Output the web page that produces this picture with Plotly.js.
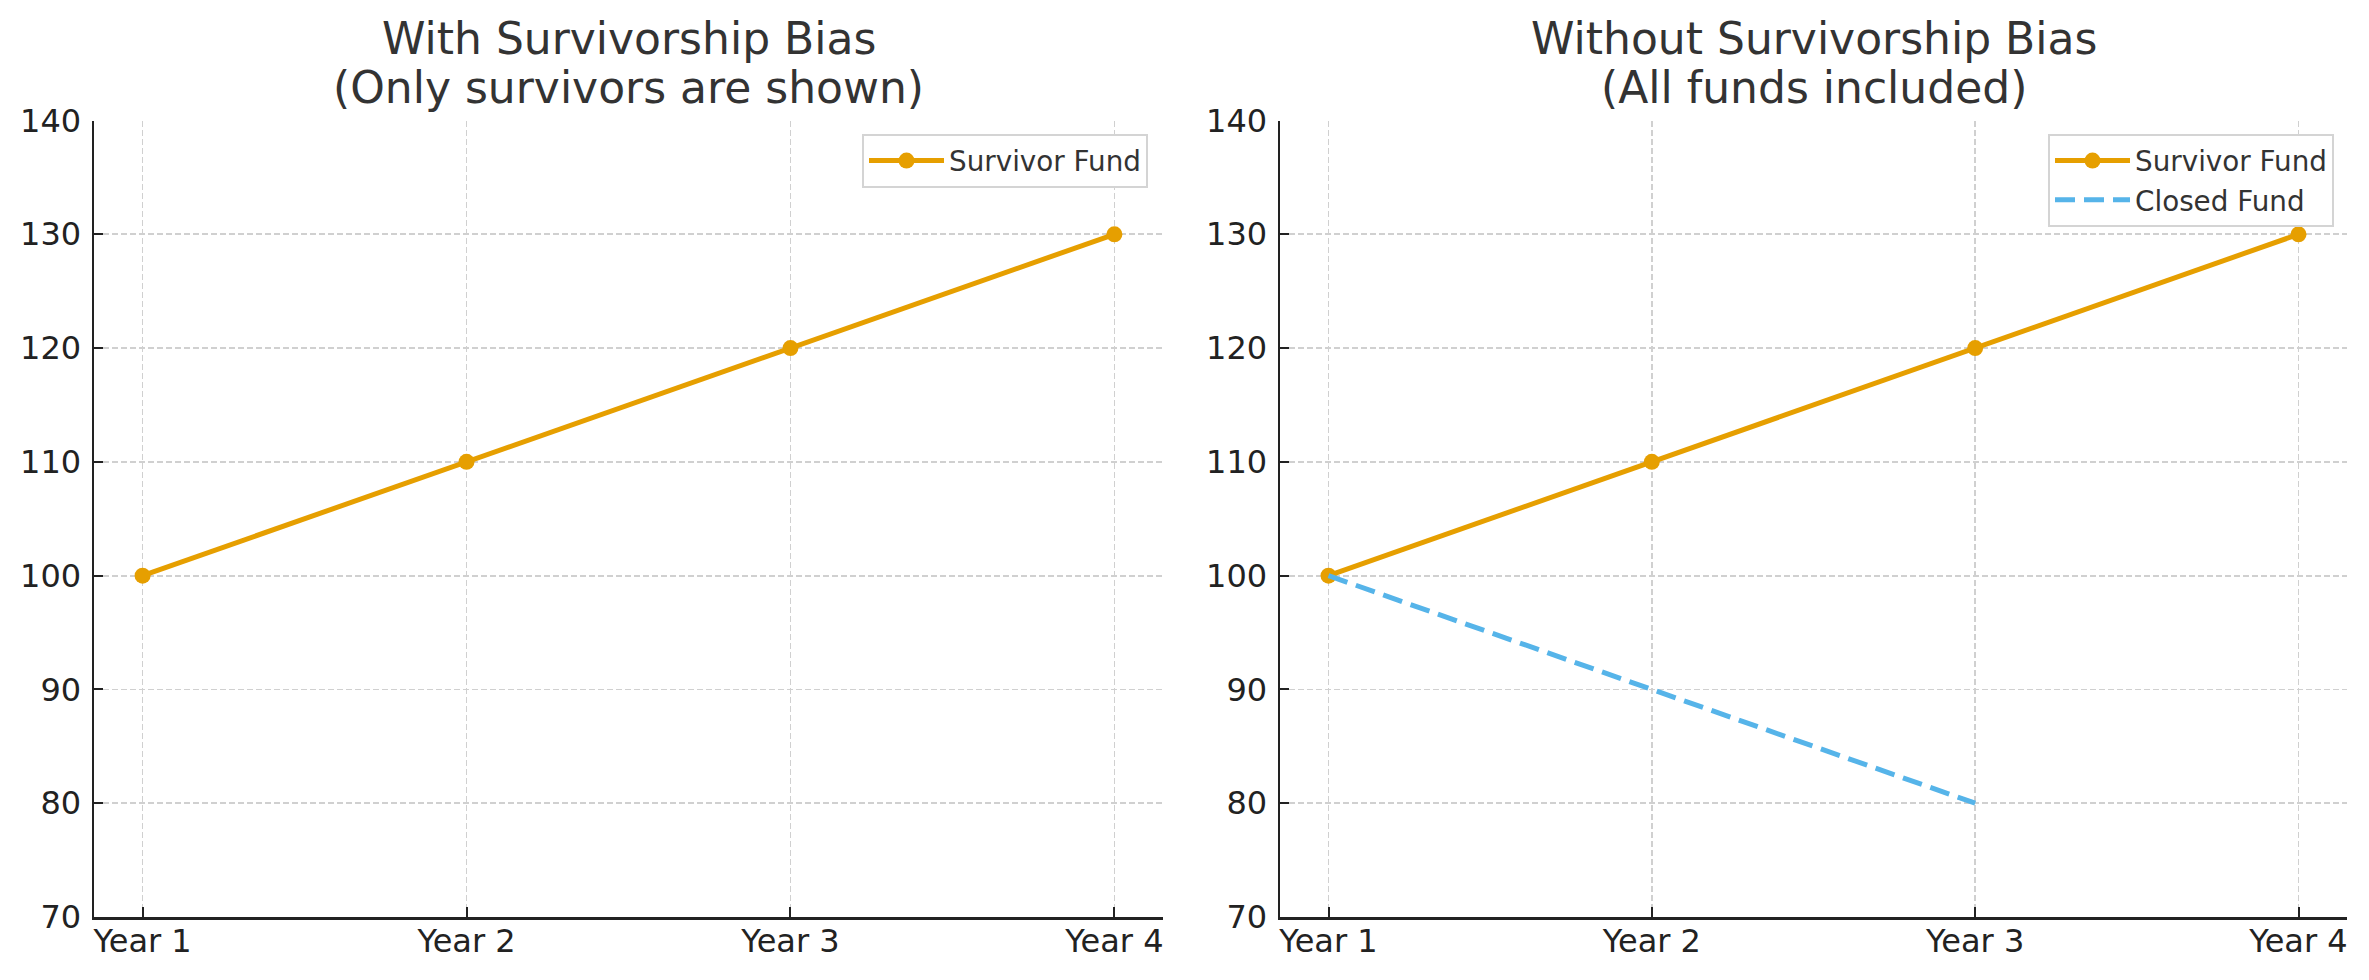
<!DOCTYPE html>
<html>
<head>
<meta charset="utf-8">
<script src="https://cdn.plot.ly/plotly-3.0.1.min.js"></script>
<style>html,body{margin:0;padding:0;background:#fff;}#chart{width:2369px;height:980px;}</style>
</head>
<body>
<div id="chart"></div>
<script>
const years = ["Year 1", "Year 2", "Year 3", "Year 4"];
const survivorValues = [100, 110, 120, 130];
const closedYears = ["Year 1", "Year 2", "Year 3"];
const closedValues = [100, 90, 80];
const yTicks = [70, 80, 90, 100, 110, 120, 130, 140];
const titleLeft = ["With Survivorship Bias", "(Only survivors are shown)"];
const titleRight = ["Without Survivorship Bias", "(All funds included)"];

const W = 2369, H = 980;
const ORANGE = "#E69F00", BLUE = "#56B4E9";
const FONT = "DejaVu Sans";

const traces = [
  {x: years, y: survivorValues, name: "Survivor Fund", mode: "lines+markers",
   line: {color: ORANGE, width: 5}, marker: {color: ORANGE, size: 16},
   xaxis: "x", yaxis: "y", legend: "legend", legendgroup: "a"},
  {x: years, y: survivorValues, name: "Survivor Fund", mode: "lines+markers",
   line: {color: ORANGE, width: 5}, marker: {color: ORANGE, size: 16},
   xaxis: "x2", yaxis: "y2", legend: "legend2", legendgroup: "b"},
  {x: closedYears, y: closedValues, name: "Closed Fund", mode: "lines",
   line: {color: BLUE, width: 5, dash: "20px,9px"},
   xaxis: "x2", yaxis: "y2", legend: "legend2", legendgroup: "c"}
];

function xa(domain, anchor) {
  return {domain: domain, anchor: anchor, type: "category", categoryorder: "array", categoryarray: years,
    range: [-0.15, 3.15], showline: true, linecolor: "#222", linewidth: 2.5, mirror: false,
    ticks: "inside", ticklen: 10, tickwidth: 2, tickcolor: "#222",
    showgrid: true, gridcolor: "#d0d0d0", gridwidth: 1.8, griddash: "6px,3px",
    zeroline: false, tickfont: {family: FONT, size: 32, color: "#222"}, ticklabelstandoff: -6, fixedrange: true};
}
function ya(domain, anchor) {
  return {domain: domain, anchor: anchor, range: [70, 140], tickvals: yTicks,
    showline: true, linecolor: "#222", linewidth: 2.5, mirror: false,
    ticks: "inside", ticklen: 9, tickwidth: 2, tickcolor: "#222",
    showgrid: true, gridcolor: "#d0d0d0", gridwidth: 1.8, griddash: "6px,3px",
    zeroline: false, tickfont: {family: FONT, size: 32, color: "#222"}, ticklabelstandoff: 4, fixedrange: true};
}
const yDom = [1 - 917/H, 1 - 120.5/H];
const legendCommon = {bgcolor: "#ffffff", bordercolor: "#d4d4d4", borderwidth: 2,
  font: {family: FONT, size: 27.8, color: "#333"}, xanchor: "right", yanchor: "top",
  traceorder: "grouped", tracegroupgap: 0, itemwidth: 75};

function titleAnn(xref, lines) {
  return [
    {xref: xref, yref: "paper", x: 0.5, y: 1 - 38.6/H, xanchor: "center", yanchor: "middle", showarrow: false,
     text: lines[0], font: {family: FONT, size: 44, color: "#333"}},
    {xref: xref, yref: "paper", x: 0.5, y: 1 - 87.6/H, xanchor: "center", yanchor: "middle", showarrow: false,
     text: lines[1], font: {family: FONT, size: 44, color: "#333"}}
  ];
}

const layout = {
  width: W, height: H, margin: {l: 0, r: 0, t: 0, b: 0},
  paper_bgcolor: "#fff", plot_bgcolor: "#fff",
  font: {family: FONT},
  xaxis: xa([94/W, 1163/W], "y"),
  yaxis: ya(yDom, "x"),
  xaxis2: xa([1280/W, 2347/W], "y2"),
  yaxis2: ya(yDom, "x2"),
  legend: Object.assign({}, legendCommon, {x: 1148/W, y: 1 - 134/H}),
  legend2: Object.assign({}, legendCommon, {x: 2334/W, y: 1 - 134/H}),
  annotations: titleAnn("x domain", titleLeft).concat(titleAnn("x2 domain", titleRight)),
  showlegend: true
};

Plotly.newPlot("chart", traces, layout, {displayModeBar: false, staticPlot: true});
</script>
</body>
</html>
